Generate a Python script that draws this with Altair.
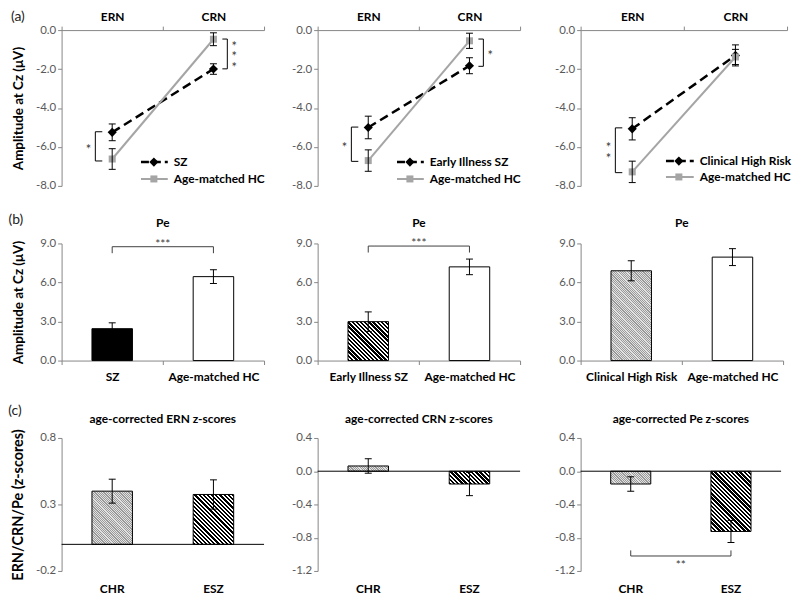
import altair as alt
import pandas as pd

FONT = "Lato"
AX = "#868686"
LBL = "#595959"
HC_GRAY = "#a5a5a5"
STAR = "#3a3a3a"

# ---------------- data ----------------
conds = ["ERN", "CRN"]
hc_label = "Age-matched HC"
patient_groups = ["SZ", "Early Illness SZ", "Clinical High Risk"]

# (a) ERN / CRN amplitudes (mean, s.e.)
a_pat_mean = [[-5.25, -2.00], [-5.00, -1.83], [-5.07, -1.30]]
a_pat_err = [[0.43, 0.27], [0.58, 0.41], [0.57, 0.54]]
a_hc_mean = [[-6.62, -0.47], [-6.70, -0.55], [-7.28, -1.38]]
a_hc_err = [[0.53, 0.33], [0.55, 0.39], [0.55, 0.39]]
a_ticks = [-8, -6, -4, -2, 0]
# significance brackets: condition, top value, bottom value, stars, side
a_brackets = [
    [("ERN", -5.22, -6.72, "*", "left"), ("CRN", -0.46, -1.99, "***", "right")],
    [("ERN", -4.98, -6.74, "*", "left"), ("CRN", -0.46, -1.86, "*", "right")],
    [("ERN", -5.02, -7.32, "**", "left")],
]

# (b) Pe amplitudes
b_pat_mean = [2.45, 2.99, 6.90]
b_pat_err = [0.45, 0.75, 0.77]
b_hc_mean = [6.45, 7.20, 7.95]
b_hc_err = [0.53, 0.60, 0.65]
b_ticks = [0, 3, 6, 9]
b_sig = ["***", "***", ""]
b_sig_y = [8.75, 8.80, 0]

# (c) age-corrected z-scores
c_titles = ["age-corrected ERN z-scores", "age-corrected CRN z-scores", "age-corrected Pe z-scores"]
c_groups = ["CHR", "ESZ"]
c_mean = [[0.40, 0.375], [0.063, -0.154], [-0.154, -0.725]]
c_err = [[0.09, 0.11], [0.087, 0.14], [0.087, 0.133]]
c_domains = [[-0.2, 0.8], [-1.2, 0.4], [-1.2, 0.4]]
c_ticks = [[-0.2, 0.3, 0.8], [-1.2, -0.8, -0.4, 0.0, 0.4], [-1.2, -0.8, -0.4, 0.0, 0.4]]
c_sig = ["", "", "**"]
c_sig_y = [0, 0, -1.02]

# ---------------- layout ----------------
WA = [204, 204, 208]
WB = [204, 204, 204]
WC = [204, 204, 202]
HA, HB, HCH = 157, 118, 134
COL_SP = 26          # grid column spacing
ROW_SP = 27          # grid row spacing
SPACER_W = [2, 9]    # widths of spacer columns
SPACER_H = [4, 24]   # heights of spacer rows
STAR_LH = 10.6       # line height of stacked stars


def stripes(w, h, period, dark, light, frac):
    """45 degree '\\' hatch emulated with a hard-stop linear gradient."""
    w = max(float(w), 1.0)
    h = max(float(h), 1.0)
    k = (w + h) / (w * w + h * h)
    n = (w + h) / period
    stops = []
    i = 0
    while i < n:
        a = i / n
        b = min((i + frac) / n, 1.0)
        c = min((i + 1) / n, 1.0)
        stops.append({"offset": round(a, 5), "color": dark})
        stops.append({"offset": round(b, 5), "color": dark})
        if b < 1.0:
            stops.append({"offset": round(b, 5), "color": light})
            stops.append({"offset": round(c, 5), "color": light})
        i += 1
    return {"gradient": "linear", "x1": 0, "y1": 1,
            "x2": round(k * w, 5), "y2": round(1 - k * h, 5), "stops": stops}


def dark_hatch(w, h):
    return stripes(w, h, 4.2, "#000000", "#ffffff", 0.55)


def light_hatch(w, h):
    return stripes(w, h, 1.8, "#9a9a9a", "#e2e2e2", 0.5)


def y_axis(values, title=None, title_size=13.5):
    kw = dict(values=values, format=".1f",
              labelExpr="replace(datum.label, '\u2212', '-')",
              grid=False, domainColor=AX, tickColor=AX, tickSize=4,
              labelColor=LBL, labelFont=FONT, labelFontSize=11.5, labelPadding=2,
              minExtent=24, maxExtent=24)
    if title:
        kw.update(title=title, titleFont=FONT, titleFontSize=title_size, titleFontWeight="bold",
                  titleColor="black", titlePadding=12)
    else:
        kw["title"] = None
    return alt.Axis(**kw)


def xb(field, domain, axis, bp=None):
    kw = dict(scale=alt.Scale(type="band", domain=domain, paddingInner=0, paddingOuter=0), axis=axis)
    if bp is not None:
        kw["bandPosition"] = bp
    return alt.X(field, **kw)


def text_at(text, x, y, size=14, weight="normal", color="#222222"):
    return alt.Chart(pd.DataFrame({"t": [text]})).mark_text(
        font=FONT, fontSize=size, fontWeight=weight, color=color, align="center", baseline="middle"
    ).encode(x=alt.value(x), y=alt.value(y), text="t:N")


def error_layers(df, X, Y):
    return [
        alt.Chart(df).mark_rule(color="black", strokeWidth=1).encode(x=X, y=Y("lo:Q"), y2="hi:Q"),
        alt.Chart(df).mark_tick(orient="horizontal", size=7, thickness=1, color="black", opacity=1
                                ).encode(x=X, y=Y("lo:Q")),
        alt.Chart(df).mark_tick(orient="horizontal", size=7, thickness=1, color="black", opacity=1
                                ).encode(x=X, y=Y("hi:Q")),
    ]


def spacer(w, h):
    return alt.Chart(pd.DataFrame({"a": [0]})).mark_point(opacity=0).encode(
        x=alt.value(0), y=alt.value(0)).properties(width=w, height=h)


# ---------------- (a) ----------------
def panel_a(i):
    g = patient_groups[i]
    W = WA[i]
    rows = []
    for j, c in enumerate(conds):
        for grp, m, e in ((g, a_pat_mean[i][j], a_pat_err[i][j]),
                          (hc_label, a_hc_mean[i][j], a_hc_err[i][j])):
            rows.append({"cond": c, "group": grp, "mean": m, "lo": m - e, "hi": m + e})
    df = pd.DataFrame(rows)
    xaxis = alt.Axis(orient="top", title=None, labelAngle=0, tickBand="extent", tickSize=4,
                     tickColor=AX, domainColor=AX, labelFont=FONT, labelFontSize=12,
                     labelFontWeight="bold", labelColor="black", labelPadding=3)
    X = xb("cond:N", conds, xaxis, 0.5)
    ys = alt.Scale(domain=[-8, 0], nice=False, zero=False)
    yax = y_axis(a_ticks, "Amplitude at Cz (μV)" if i == 0 else None)

    def Y(f):
        return alt.Y(f, scale=ys, axis=yax)

    base = alt.Chart(df).encode(x=X)
    pat = base.transform_filter(alt.datum.group == g)
    hc = base.transform_filter(alt.datum.group == hc_label)
    layers = [
        pat.mark_line(color="black", strokeWidth=2.5, strokeDash=[9, 5]).encode(y=Y("mean:Q")),
        hc.mark_line(color=HC_GRAY, strokeWidth=2).encode(y=Y("mean:Q")),
        pat.mark_point(shape="diamond", filled=True, size=85, color="black", opacity=1).encode(y=Y("mean:Q")),
        hc.mark_point(shape="square", filled=True, size=50, color=HC_GRAY, opacity=1).encode(y=Y("mean:Q")),
    ]
    layers += error_layers(df, X, Y)

    for (c, top, bot, stars, side) in a_brackets[i]:
        v = -17 if side == "left" else 14
        end_size = 7 if side == "left" else 5
        end_c = v + end_size / 2 if side == "left" else v - end_size / 2
        s_off = -24 if side == "left" else 21
        n = len(stars)
        bd = pd.DataFrame({"cond": [c], "top": [top], "bot": [bot]})
        ed = pd.DataFrame({"cond": [c, c], "y": [top, bot]})
        sd = pd.DataFrame({"cond": [c], "y": [(top + bot) / 2]})
        layers += [
            alt.Chart(bd).mark_rule(color="black", strokeWidth=1, xOffset=v).encode(
                x=X, y=Y("top:Q"), y2="bot:Q"),
            alt.Chart(ed).mark_tick(orient="horizontal", size=end_size, thickness=1, color="black",
                                    opacity=1, xOffset=end_c).encode(x=X, y=Y("y:Q")),
            alt.Chart(sd).mark_text(font=FONT, fontSize=13, color=STAR, baseline="middle",
                                    dy=3.5 - (n - 1) * STAR_LH / 2, lineHeight=STAR_LH,
                                    xOffset=s_off).encode(
                x=X, y=Y("y:Q"), text=alt.value(list(stars))),
        ]

    # legend inside plot
    if i < 2:
        lx0, lx1, lmx, ltx, ly = 80, 107, 93, 113, [133, 150]
    else:
        lx0, lx1, lmx, ltx, ly = 86, 114, 99, 120, [132, 148]
    styles = [dict(color="black", w=2.5, dash=[8, 4], shape="diamond", size=85),
              dict(color=HC_GRAY, w=2, dash=[1, 0], shape="square", size=50)]
    for k, lab in enumerate([g, hc_label]):
        st = styles[k]
        ld = pd.DataFrame({"label": [lab]})
        layers += [
            alt.Chart(ld).mark_rule(color=st["color"], strokeWidth=st["w"], strokeDash=st["dash"]).encode(
                x=alt.value(lx0), x2=alt.value(lx1), y=alt.value(ly[k])),
            alt.Chart(ld).mark_point(shape=st["shape"], filled=True, size=st["size"], color=st["color"],
                                     opacity=1).encode(x=alt.value(lmx), y=alt.value(ly[k])),
            alt.Chart(ld).mark_text(font=FONT, fontSize=12, fontWeight="bold", color="black", align="left",
                                    baseline="middle").encode(x=alt.value(ltx), y=alt.value(ly[k]),
                                                              text="label:N"),
        ]
    if i == 0:
        layers.append(text_at("(a)", -44, -13))
    return alt.layer(*layers).properties(width=W, height=HA)


# ---------------- (b) ----------------
def panel_b(i):
    g = patient_groups[i]
    W = WB[i]
    cats = [g, hc_label]
    means = [b_pat_mean[i], b_hc_mean[i]]
    errs = [b_pat_err[i], b_hc_err[i]]
    df = pd.DataFrame({"cat": cats, "mean": means,
                       "lo": [m - e for m, e in zip(means, errs)],
                       "hi": [m + e for m, e in zip(means, errs)]})
    xaxis = alt.Axis(title=None, labelAngle=0, tickBand="extent", tickSize=4, tickColor=AX,
                     domainColor=AX, labelFont=FONT, labelFontSize=12, labelFontWeight="bold",
                     labelColor="black", labelPadding=7)
    Xbar = xb("cat:N", cats, xaxis)
    Xc = xb("cat:N", cats, xaxis, 0.5)
    ys = alt.Scale(domain=[0, 9], nice=False, zero=True)
    yax = y_axis(b_ticks, "Amplitude at Cz (μV)" if i == 0 else None)

    def Y(f):
        return alt.Y(f, scale=ys, axis=yax)

    bw = 0.4 * W / 2
    ppu = HB / 9
    if i == 0:
        pf = "black"
    elif i == 1:
        pf = dark_hatch(bw, means[0] * ppu)
    else:
        pf = light_hatch(bw, means[0] * ppu)
    fills = [pf, "white"]
    layers = []
    for k, c in enumerate(cats):
        layers.append(
            alt.Chart(df).transform_filter(alt.datum.cat == c).mark_bar(
                width={"band": 0.4}, fill=fills[k], stroke="black", strokeWidth=1
            ).encode(x=Xbar, y=Y("mean:Q")))
    layers += error_layers(df, Xc, Y)
    if b_sig[i]:
        sy = b_sig_y[i]
        pdf = pd.DataFrame({"cat": [cats[0], cats[0], cats[1], cats[1]],
                            "y": [sy - 0.5, sy, sy, sy - 0.5], "k": [0, 1, 2, 3]})
        layers.append(alt.Chart(pdf).mark_line(color="#404040", strokeWidth=1).encode(
            x=Xc, y=Y("y:Q"), order="k:Q"))
        layers.append(alt.Chart(pd.DataFrame({"s": [b_sig[i]], "y": [sy]})).mark_text(
            font=FONT, fontSize=12, color=STAR, baseline="middle", dy=-3
        ).encode(x=alt.value(W / 2), y=Y("y:Q"), text="s:N"))
    layers.append(text_at("Pe", W / 2, -21, size=12, weight="bold", color="black"))
    if i == 0:
        layers.append(text_at("(b)", -46, -24))
    return alt.layer(*layers).properties(width=W, height=HB)


# ---------------- (c) ----------------
def panel_c(i):
    W = WC[i]
    cats = c_groups
    means = c_mean[i]
    errs = c_err[i]
    df = pd.DataFrame({"cat": cats, "mean": means,
                       "lo": [m - e for m, e in zip(means, errs)],
                       "hi": [m + e for m, e in zip(means, errs)]})
    xaxis = alt.Axis(title=None, labelAngle=0, domain=False, ticks=False, labelFont=FONT,
                     labelFontSize=12, labelFontWeight="bold", labelColor="black", labelPadding=13)
    Xbar = xb("cat:N", cats, xaxis)
    Xc = xb("cat:N", cats, xaxis, 0.5)
    d0, d1 = c_domains[i]
    ys = alt.Scale(domain=[d0, d1], nice=False, zero=False)
    yax = y_axis(c_ticks[i], "ERN/CRN/Pe (z-scores)" if i == 0 else None, title_size=14.5)

    def Y(f):
        return alt.Y(f, scale=ys, axis=yax)

    bw = 0.4 * W / 2
    ppu = HCH / (d1 - d0)
    fills = [light_hatch(bw, abs(means[0]) * ppu), dark_hatch(bw, abs(means[1]) * ppu)]
    layers = []
    for k, c in enumerate(cats):
        layers.append(
            alt.Chart(df).transform_filter(alt.datum.cat == c).mark_bar(
                width={"band": 0.4}, fill=fills[k], stroke="black", strokeWidth=1
            ).encode(x=Xbar, y=Y("mean:Q")))
    layers.append(alt.Chart(pd.DataFrame({"z": [0.0]})).mark_rule(color="black", strokeWidth=1).encode(
        y=Y("z:Q")))
    layers += error_layers(df, Xc, Y)
    if c_sig[i]:
        sy = c_sig_y[i]
        pdf = pd.DataFrame({"cat": [cats[0], cats[0], cats[1], cats[1]],
                            "y": [sy + 0.067, sy, sy, sy + 0.067], "k": [0, 1, 2, 3]})
        layers.append(alt.Chart(pdf).mark_line(color="#404040", strokeWidth=1).encode(
            x=Xc, y=Y("y:Q"), order="k:Q"))
        layers.append(alt.Chart(pd.DataFrame({"s": [c_sig[i]], "y": [sy]})).mark_text(
            font=FONT, fontSize=12, color=STAR, baseline="middle", dy=9
        ).encode(x=alt.value(W / 2), y=Y("y:Q"), text="s:N"))
    layers.append(text_at(c_titles[i], W / 2, -19, size=12, weight="bold", color="black"))
    if i == 0:
        layers.append(text_at("(c)", -47, -27))
    return alt.layer(*layers).properties(width=W, height=HCH)


def panel_row(panels):
    return [panels[0], spacer(SPACER_W[0], 1), panels[1], spacer(SPACER_W[1], 1), panels[2]]


def spacer_row(h):
    return [spacer(1, h), spacer(SPACER_W[0], h), spacer(1, h), spacer(SPACER_W[1], h), spacer(1, h)]


cells = (panel_row([panel_a(i) for i in range(3)])
         + spacer_row(SPACER_H[0])
         + panel_row([panel_b(i) for i in range(3)])
         + spacer_row(SPACER_H[1])
         + panel_row([panel_c(i) for i in range(3)]))

chart = alt.concat(
    *cells, columns=5, spacing={"row": ROW_SP, "column": COL_SP}, bounds="flush", align="each"
).properties(padding=0).configure(font=FONT).configure_view(stroke=None)

chart.save("out.html", embed_options={"renderer": "svg", "actions": False})
